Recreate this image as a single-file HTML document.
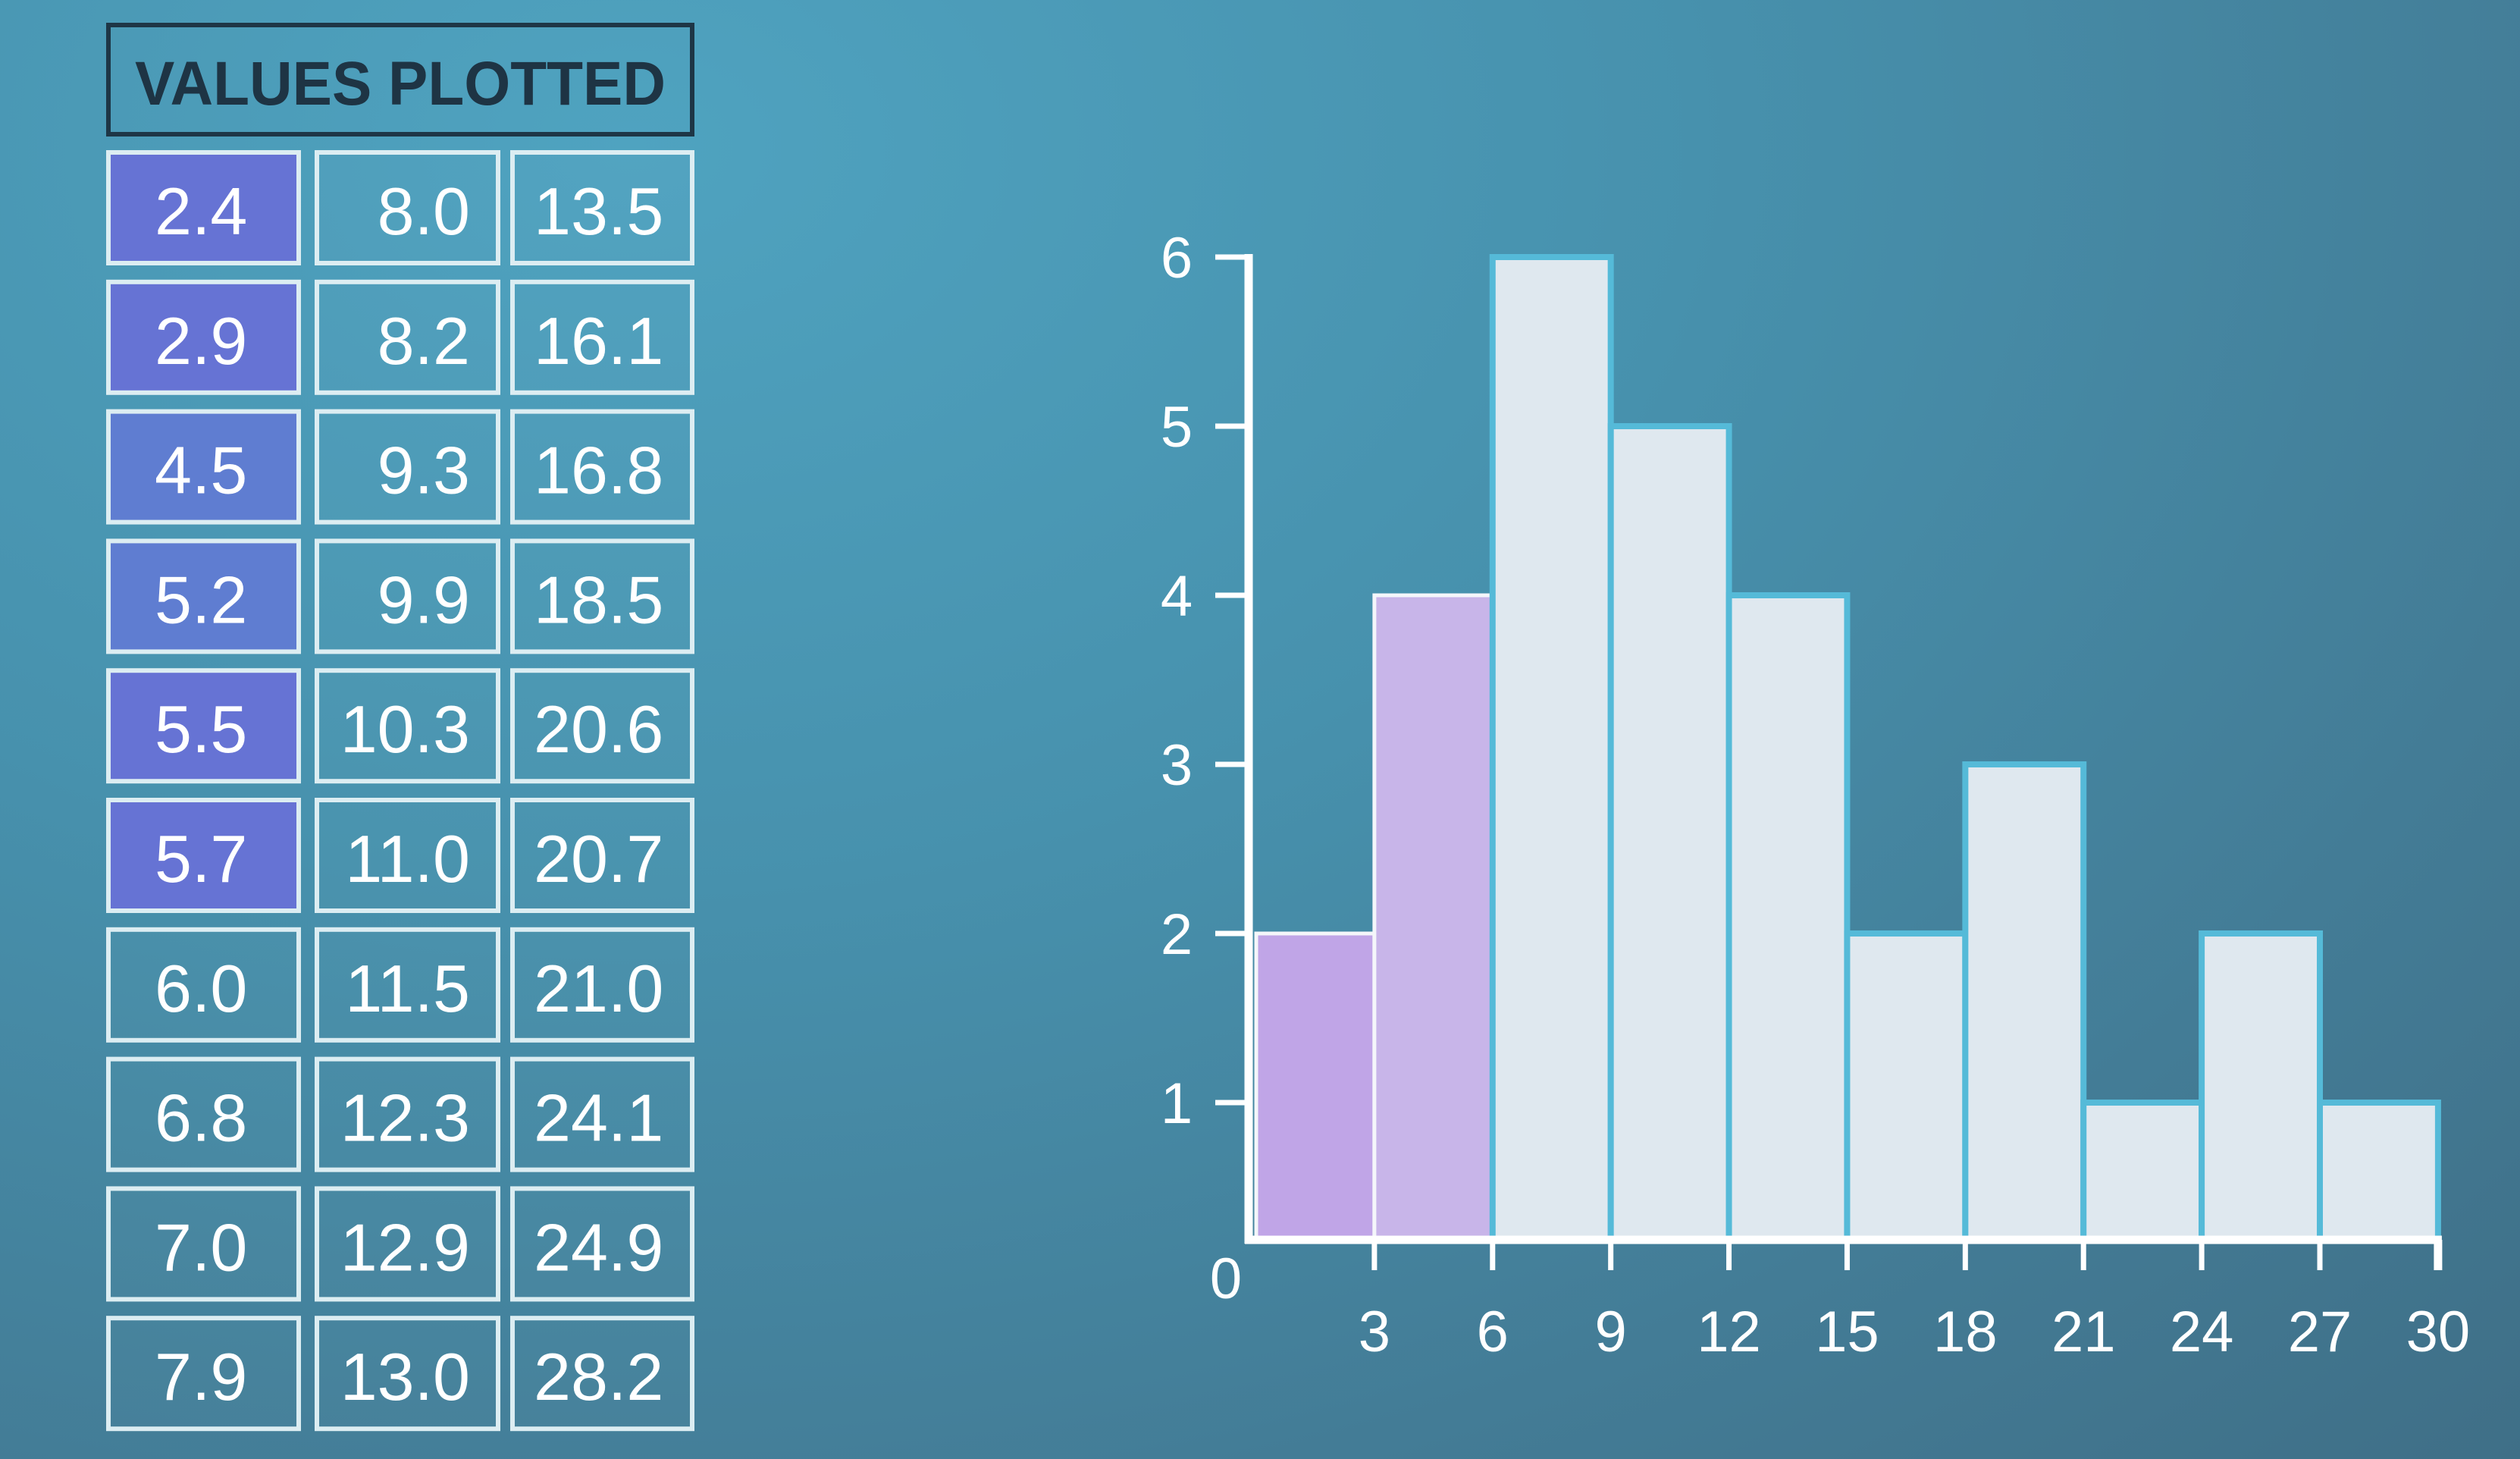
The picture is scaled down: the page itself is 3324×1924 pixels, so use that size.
<!DOCTYPE html>
<html><head><meta charset="utf-8">
<style>
html,body{margin:0;padding:0;width:3324px;height:1924px;overflow:hidden;}
body{background:radial-gradient(ellipse at 25% 10%,#4fa3c0 0%,#4791ad 40%,#437c96 75%,#3f6f87 100%);font-family:"Liberation Sans",sans-serif;}
svg{position:absolute;left:0;top:0;}
</style></head>
<body>
<svg id="chart" width="3324" height="1924" viewBox="0 0 3324 1924">
  <g id="table">
    <rect x="143" y="33" width="770" height="144" fill="none" stroke="#1e3646" stroke-width="6"/>
    <text x="528" y="138" text-anchor="middle" font-size="82" font-weight="bold" fill="#1e3444" font-family="Liberation Sans, sans-serif" textLength="700" lengthAdjust="spacingAndGlyphs">VALUES PLOTTED</text>
  </g>
  <g id="plot"></g>
</svg>
<script>
const col1 = ["2.4","2.9","4.5","5.2","5.5","5.7","6.0","6.8","7.0","7.9"];
const col2 = ["8.0","8.2","9.3","9.9","10.3","11.0","11.5","12.3","12.9","13.0"];
const col3 = ["13.5","16.1","16.8","18.5","20.6","20.7","21.0","24.1","24.9","28.2"];
const highlightedRows = 6;

const binStarts = [0,3,6,9,12,15,18,21,24,27];
const binWidth = 3;
const counts = [2,4,6,5,4,2,3,1,2,1];
const xTicks = [3,6,9,12,15,18,21,24,27,30];
const yTicks = [1,2,3,4,5,6];

const NS = "http://www.w3.org/2000/svg";
function mk(tag, attrs, parent){
  const e = document.createElementNS(NS, tag);
  for (const k in attrs) e.setAttribute(k, attrs[k]);
  parent.appendChild(e);
  return e;
}

// table
const table = document.getElementById('table');
const rowTop = r => 201 + r * 170.8;
const cols = [
  {x:143, w:251, data:col1, anchor:"start", tx:204},
  {x:418, w:239, data:col2, anchor:"end", tx:620},
  {x:676, w:237, data:col3, anchor:"start", tx:704}
];
cols.forEach((c, ci) => {
  c.data.forEach((v, r) => {
    const hl = ci === 0 && r < highlightedRows;
    const rect = mk('rect', {x:c.x, y:rowTop(r), width:c.w, height:146,
      fill: hl ? (r===2||r===3 ? '#5f7dd1' : '#6673d4') : 'rgba(255,255,255,0.02)',
      stroke:'#dcedf2', 'stroke-width':6}, table);
    
    
    const t = mk('text', {x:c.tx, y:rowTop(r)+108, 'text-anchor':c.anchor,
      'font-size':88, fill:'#ffffff', 'font-family':'Liberation Sans, sans-serif'}, table);
    t.textContent = v;
    
    
  });
});

// axes
const plot = document.getElementById('plot');
const X0 = 1657, XU = (3216 - 1813) / 27;
const xs = v => X0 + v * XU;
const YTOP6 = 339, YU = 223;
const ys = v => YTOP6 + (6 - v) * YU;
const BASE = 1635;
const AXX = 1647;

counts.forEach((c, i) => {
  const x0 = xs(binStarts[i]), x1 = xs(binStarts[i] + binWidth);
  const purple = i < 2;
  const fill = i === 0 ? '#c0a5e7' : (i === 1 ? '#c8b5e9' : '#dfe8ef');
  const b = mk('rect', {x:x0, y:ys(c), width:x1-x0, height:BASE-ys(c), fill:fill,
    stroke: purple ? '#f4f6fa' : '#55bad8', 'stroke-width': purple ? 5 : 8}, plot);
  
  
});

const yAxis = mk('line', {x1:AXX, y1:ys(6)-4, x2:AXX, y2:BASE+5, stroke:'#ffffff', 'stroke-width':11}, plot);


const xAxis = mk('line', {x1:AXX-5, y1:BASE, x2:xs(30)+5, y2:BASE, stroke:'#ffffff', 'stroke-width':11}, plot);



yTicks.forEach(v => {
  const t = mk('line', {x1:1603, y1:ys(v), x2:AXX, y2:ys(v), stroke:'#ffffff', 'stroke-width':7}, plot);
  
  
  const l = mk('text', {x:1552, y:ys(v)+27, 'text-anchor':'middle', 'font-size':76, fill:'#ffffff'}, plot);
  l.textContent = v;
  
  
});
xTicks.forEach(v => {
  const t = mk('line', {x1:xs(v), y1:BASE, x2:xs(v), y2:1675, stroke:'#ffffff', 'stroke-width': v===30 ? 11 : 7}, plot);
  
  
  const l = mk('text', {x:xs(v), y:1782, 'text-anchor':'middle', 'font-size':76, fill:'#ffffff'}, plot);
  l.textContent = v;
  
  
});
const zero = mk('text', {x:1617, y:1712, 'text-anchor':'middle', 'font-size':76, fill:'#ffffff'}, plot);
zero.textContent = '0';


</script>
</body></html>
